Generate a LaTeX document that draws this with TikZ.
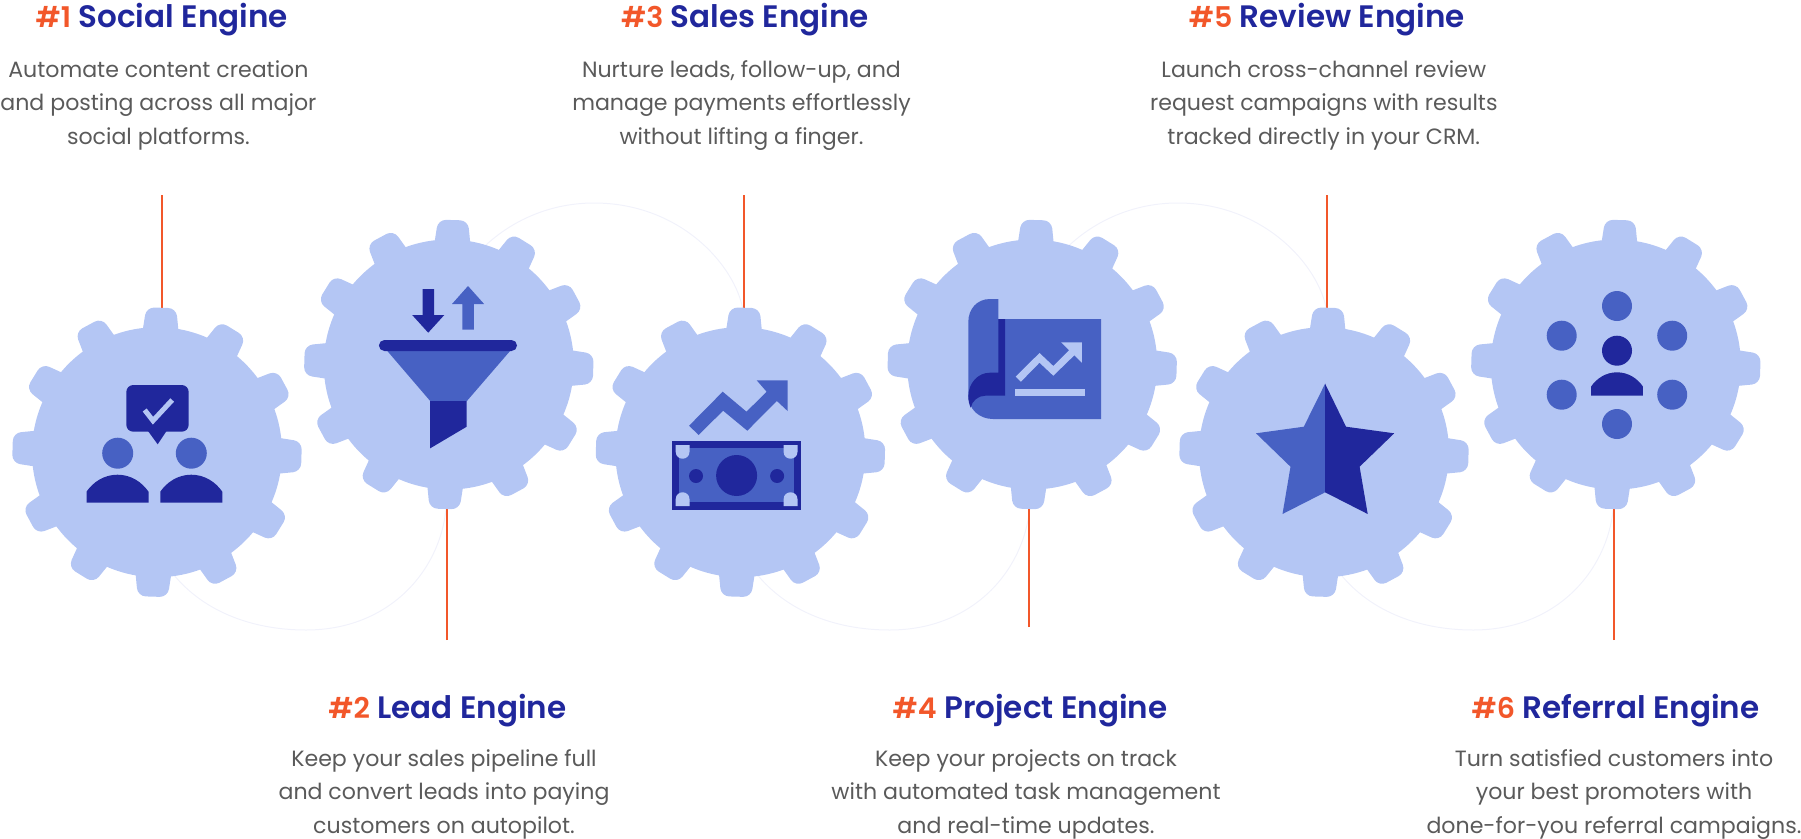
\documentclass[tikz,border=0pt]{standalone}
\usepackage{fontspec}
\setmainfont{Poppins}[BoldFont={Poppins SemiBold}]
\definecolor{gearc}{HTML}{B4C6F4}
\definecolor{midc}{HTML}{4761C3}
\definecolor{darkc}{HTML}{20279C}
\definecolor{orangec}{HTML}{F2572A}
\definecolor{grayc}{HTML}{5A5A5A}
\definecolor{faintc}{HTML}{F1F2FB}
\newcommand{\enginenum}[1]{{\fontsize{28.5}{36}\selectfont\textcolor{orangec}{\##1}}}
\tikzset{
  conn/.style={draw=orangec,line width=2pt},
  faintarc/.style={draw=faintc,line width=1pt},
  titletext/.style={text=darkc,font=\fontsize{31}{36}\selectfont\bfseries,inner sep=0pt,anchor=center},
  desctext/.style={text=grayc,font=\fontsize{22.1}{33.5}\selectfont,inner sep=0pt,align=center,anchor=center},
}
\newcommand{\gearshape}[2]{%
  \fill[gearc] (#1,#2) circle[radius=125pt];
  \foreach \ang in {0,30,...,330}{
    \fill[gearc,rounded corners=8pt,shift={(#1,#2)},rotate=-1.7-\ang]
      (-20,-105) -- (-15,-144.5) -- (15,-144.5) -- (20,-105) -- cycle;
  }%
}
\newcommand{\personshape}[3]{% cx, top, scale
  \begin{scope}[shift={(#1,#2)},scale=#3]
    \fill[darkc] (-31,17) .. controls (-24.5,7.5) and (-13.5,0) .. (0,0)
      .. controls (13.5,0) and (24.5,7.5) .. (31,17) -- (31,28) -- (-31,28) -- cycle;
  \end{scope}%
}
\newcommand{\billcorner}[4]{% x0,y0,x1,y1 with the edge y=y0 square and y=y1 rounded
  \fill[gearc] (#1,#2) -- (#3,#2) -- (#3,{(#2+#4)/2})
    .. controls (#3,{#2+0.85*(#4-#2)}) and ({#1+0.72*(#3-#1)},#4) .. ({(#1+#3)/2},#4)
    .. controls ({#1+0.28*(#3-#1)},#4) and (#1,{#2+0.85*(#4-#2)}) .. (#1,{(#2+#4)/2}) -- cycle;%
}
\begin{document}
\begin{tikzpicture}[x=1pt,y=-1pt]
\useasboundingbox (0,0) rectangle (1801,838);
% faint arcs
\foreach \dx in {0,583.6,1167.2}{
  \draw[faintarc,shift={(\dx,0)}] (170,570) .. controls (200,610) and (250,630) .. (306,630)
    .. controls (390,630) and (440,570) .. (446,509);
}
\foreach \dx in {0,583.6}{
  \draw[faintarc,shift={(\dx,0)}] (470,262) .. controls (500,225) and (545,203) .. (594,203)
    .. controls (680,203) and (735,265) .. (743,310);
}
% connectors
\coordinate (a1) at (162.3,195); \coordinate (b1) at (162.3,312);
\coordinate (a2) at (446.6,640); \coordinate (b2) at (446.6,505);
\coordinate (a3) at (743.7,195); \coordinate (b3) at (743.7,312);
\coordinate (a4) at (1029.2,627); \coordinate (b4) at (1029.2,505);
\coordinate (a5) at (1326.7,195); \coordinate (b5) at (1326.7,312);
\coordinate (a6) at (1614,640); \coordinate (b6) at (1614,505);
\foreach \i in {1,...,6}{\draw[conn] (a\i) -- (b\i);}
% gears
\gearshape{157}{452.2}
\gearshape{448.8}{364.5}
\gearshape{740.4}{452.2}
\gearshape{1032.2}{364.5}
\gearshape{1324}{452.2}
\gearshape{1615.8}{364.5}
% icon 1
\fill[darkc,rounded corners=7pt] (126.3,385) rectangle (188.7,431.7);
\fill[darkc] (148,431) -- (157.7,444.3) -- (166.5,431) -- cycle;
\draw[gearc,line width=5pt] (144.7,410) -- (153,420.7) -- (172.2,400);
\fill[midc] (117.7,453.2) circle[radius=15.5pt];
\fill[midc] (191.3,453.2) circle[radius=15.5pt];
\personshape{117.5}{474.7}{1}
\personshape{191.3}{474.7}{1}
% icon 2
\fill[midc] (386.5,350) -- (510.9,350) -- (466.9,401) -- (430.2,401) -- cycle;
\fill[darkc] (430.2,401) -- (466.7,401) -- (466.7,426.7) -- (430.2,448.3) -- cycle;
\fill[darkc,rounded corners=5.5pt] (378.9,340) rectangle (517,351);
\fill[darkc] (422.5,289) -- (434,289) -- (434,315) -- (444.3,315) -- (428.2,332.7) -- (412.2,315) -- (422.5,315) -- cycle;
\fill[midc] (462.3,329.7) -- (473.8,329.7) -- (473.8,304) -- (484.1,304) -- (468,286) -- (452,304) -- (462.3,304) -- cycle;
% icon 3
\fill[midc] (689.1,425.7) -- (722.7,391.7) -- (746.5,411.7) -- (766.6,391.7) -- (756.7,380.3) -- (787.6,380.3)
  -- (787.6,411) -- (776.9,401) -- (747.3,430.7) -- (723.1,410.7) -- (698.6,435) -- cycle;
\fill[darkc] (672.1,441) rectangle (801,509.7);
\fill[midc] (678.9,448.3) rectangle (794.3,502.3);
\billcorner{675.7}{445}{689.5}{458.7}
\billcorner{783.6}{445}{797.5}{458.7}
\billcorner{675.7}{506}{689.5}{492.3}
\billcorner{783.6}{506}{797.5}{492.3}
\fill[darkc] (736.6,475.5) circle[radius=20.5pt];
\fill[darkc] (696,476) circle[radius=7pt];
\fill[darkc] (777.1,476) circle[radius=7pt];
% icon 4
\fill[midc] (998.3,299) -- (990,299) .. controls (977,299) and (968.3,309) .. (968.3,322) -- (968.3,395)
  .. controls (968.3,409) and (979,419) .. (993,419) -- (1101.2,419) -- (1101.2,319) -- (998.3,319) -- cycle;
\fill[darkc] (998.3,319) -- (1005.1,319) -- (1005.1,395.7) -- (985.3,395.7)
  .. controls (978,395.7) and (972,401) .. (970.7,407.7) .. controls (969,404) and (968.3,400) .. (968.3,396.7)
  .. controls (968.3,383) and (978,372.7) .. (990,372.7) -- (998.3,372.7) -- cycle;
\fill[gearc] (1015.7,376.7) -- (1039.5,353) -- (1053.3,366) -- (1069.1,350.3) -- (1061.2,342.3) -- (1081.8,342.3)
  -- (1081.8,362.7) -- (1074.3,355.3) -- (1053.3,375.7) -- (1039.5,362.7) -- (1020.9,381.7) -- cycle;
\fill[gearc] (1014.6,389) rectangle (1085,395.7);
% icon 5
\fill[midc] (1325.1,383.7) -- (1303.8,426.7) -- (1256,433.3) -- (1290.5,466.7) -- (1282.5,514) -- (1325.1,492.3) -- cycle;
\fill[darkc] (1325.1,383.7) -- (1346,426.7) -- (1394.2,433.3) -- (1359.6,466.7) -- (1367.7,514) -- (1325.1,492.3) -- cycle;
% icon 6
\foreach \px/\py in {1617/306,1561.7/335.7,1672.2/335.7,1561.7/394.7,1672.2/394.7,1617/424}{
  \fill[midc] (\px,\py) circle[radius=15pt];
}
\fill[darkc] (1617,350.7) circle[radius=15pt];
\personshape{1617}{372.3}{0.835}
% texts
\node[titletext] (t1) at (161.7,19.5) {\enginenum{1} Social Engine};
\node[desctext] (d1) at (158.4,105.3) {Automate content creation\\and posting across all major\\social platforms.};
\node[titletext] (t3) at (745,19.5) {\enginenum{3} Sales Engine};
\node[desctext] (d3) at (741.5,105.3) {Nurture leads, follow-up, and\\manage payments effortlessly\\without lifting a finger.};
\node[titletext] (t5) at (1326.9,19.5) {\enginenum{5} Review Engine};
\node[desctext] (d5) at (1323.8,105.3) {Launch cross-channel review\\request campaigns with results\\tracked directly in your CRM.};
\node[titletext] (t2) at (447.3,711) {\enginenum{2} Lead Engine};
\node[desctext] (d2) at (444,794.4) {Keep your sales pipeline full\\and convert leads into paying\\customers on autopilot.};
\node[titletext] (t4) at (1030,711) {\enginenum{4} Project Engine};
\node[desctext] (d4) at (1026,794.4) {Keep your projects on track\\with automated task management\\and real-time updates.};
\node[titletext] (t6) at (1615.5,711) {\enginenum{6} Referral Engine};
\node[desctext] (d6) at (1614,794.4) {Turn satisfied customers into\\your best promoters with\\done-for-you referral campaigns.};
\end{tikzpicture}
\end{document}
